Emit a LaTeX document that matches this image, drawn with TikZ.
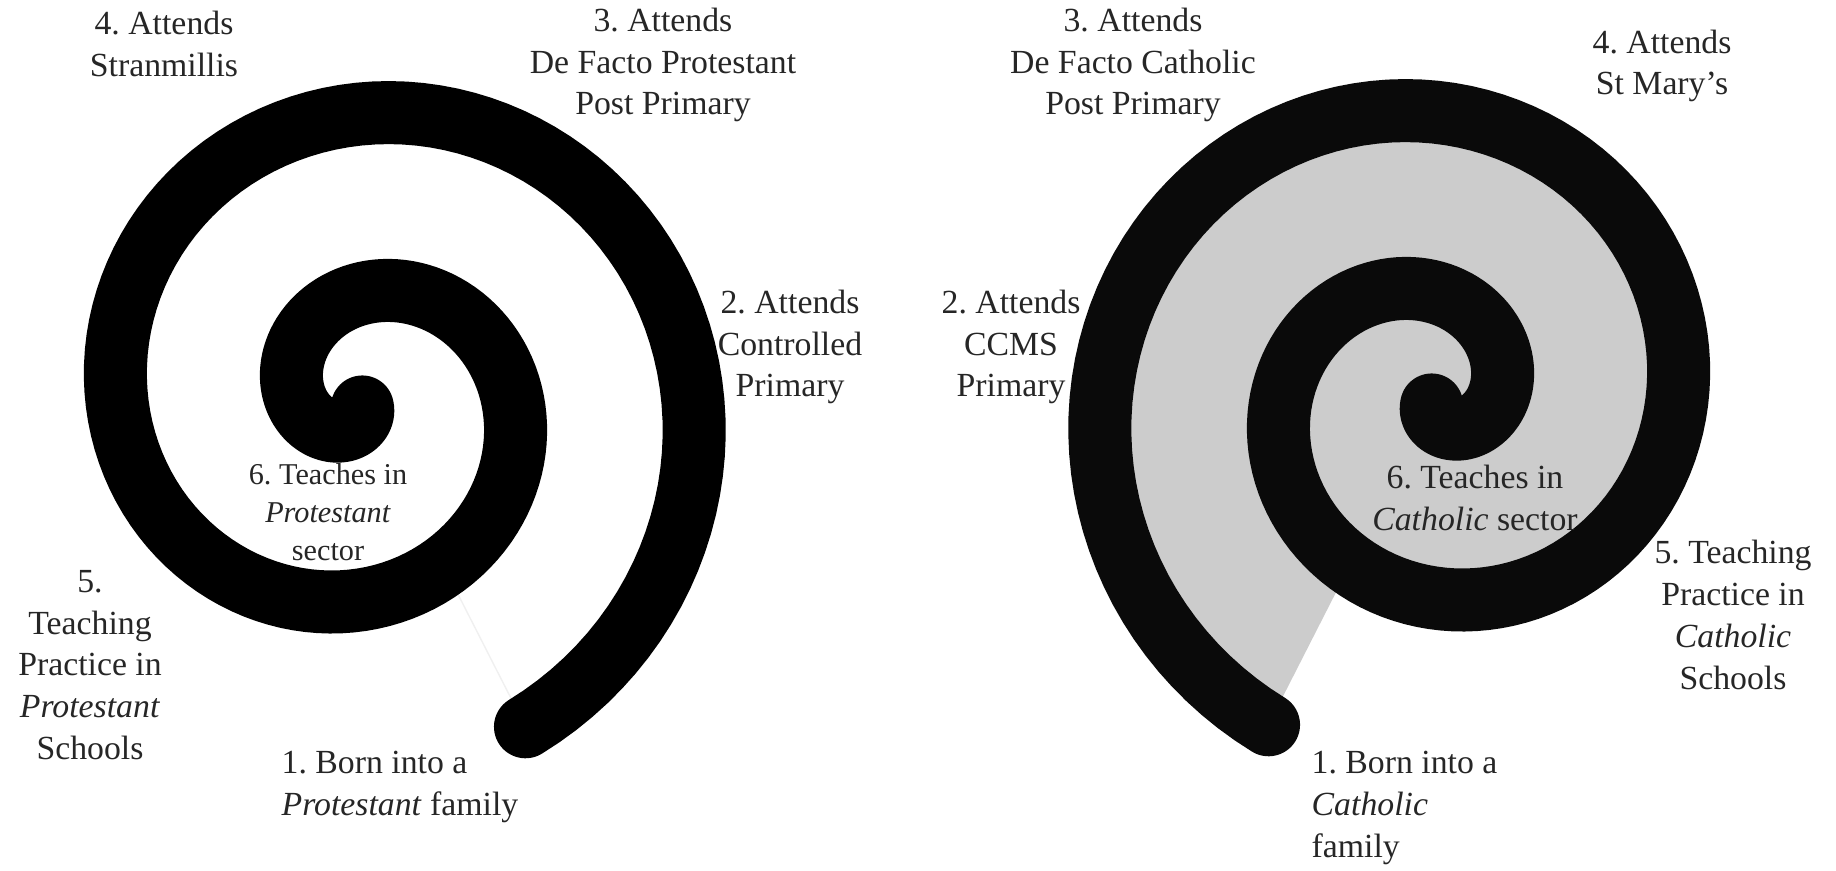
\documentclass[tikz,border=0pt]{standalone}
\usepackage{fontspec}
\setmainfont{Liberation Serif}
\usetikzlibrary{positioning}
\frenchspacing
\tikzset{
  % Spiral radius, shrinking half a unit per degree
  declare function={coilr(\t)=333-0.5*\t;},
  % Thick spiral band
  coil/.style={
    draw=#1, line width=0.63cm,
    line cap=round, line join=round
  },
  % Step label
  lbl/.style={
    font=\fontsize{9.6}{11.9}\selectfont,
    text=black!85, align=center, inner sep=0pt
  },
  % Smaller label in the middle of the left spiral
  lblsm/.style={
    lbl, font=\fontsize{8.6}{10.9}\selectfont
  }
}

\begin{document}
\begin{tikzpicture}[x=0.01cm, y=-0.01cm]
  \useasboundingbox (0,0) rectangle (1836,871);

  % ---- LEFT SPIRAL (Protestant) ----
  \filldraw[fill=white, draw=black!6, line width=0.4pt]
    plot[domain=-63:297, samples=121, variable=\t]
      ({360+coilr(\t)*cos(\t)}, {402-coilr(\t)*sin(\t)}) -- cycle;
  \draw[coil=black]
    plot[domain=-63:655, samples=240, variable=\t]
      ({360+coilr(\t)*cos(\t)}, {402-coilr(\t)*sin(\t)});

  % ---- RIGHT SPIRAL (Catholic) ----
  \fill[black!20]
    plot[domain=-63:297, samples=121, variable=\t]
      ({1434-coilr(\t)*cos(\t)}, {400-coilr(\t)*sin(\t)}) -- cycle;
  \draw[coil=black!96]
    plot[domain=-63:655, samples=240, variable=\t]
      ({1434-coilr(\t)*cos(\t)}, {400-coilr(\t)*sin(\t)});

  % ---- LEFT LABELS ----
  \node[lbl] (l4) at (164,44)  {4. Attends\\Stranmillis};
  \node[lbl] (l3) at (663,65)  {3. Attends\\De Facto Protestant\\Post Primary};
  \node[lbl] (l2) at (790,347) {2. Attends\\Controlled\\Primary};
  \node[lblsm] (l6) at (328,512) {6. Teaches in\\\textit{Protestant}\\sector};
  \node[lbl] (l5) at (90,665)  {5.\\Teaching\\Practice in\\\textit{Protestant}\\Schools};
  \node[lbl, align=left, anchor=west] (l1) at (281,787)
    {1. Born into a\\\textit{Protestant} family};

  % ---- RIGHT LABELS ----
  \node[lbl] (r3) at (1133,65)  {3. Attends\\De Facto Catholic\\Post Primary};
  \node[lbl] (r4) at (1662,66)  {4. Attends\\St Mary’s};
  \node[lbl] (r2) at (1011,347) {2. Attends\\CCMS\\Primary};
  \node[lbl] (r6) at (1475,498) {6. Teaches in\\\textit{Catholic} sector};
  \node[lbl] (r5) at (1733,615) {5. Teaching\\Practice in\\\textit{Catholic}\\Schools};
  \node[lbl, align=left, anchor=west] (r1) at (1311,808)
    {1. Born into a\\\textit{Catholic}\\family};

\end{tikzpicture}
\end{document}
